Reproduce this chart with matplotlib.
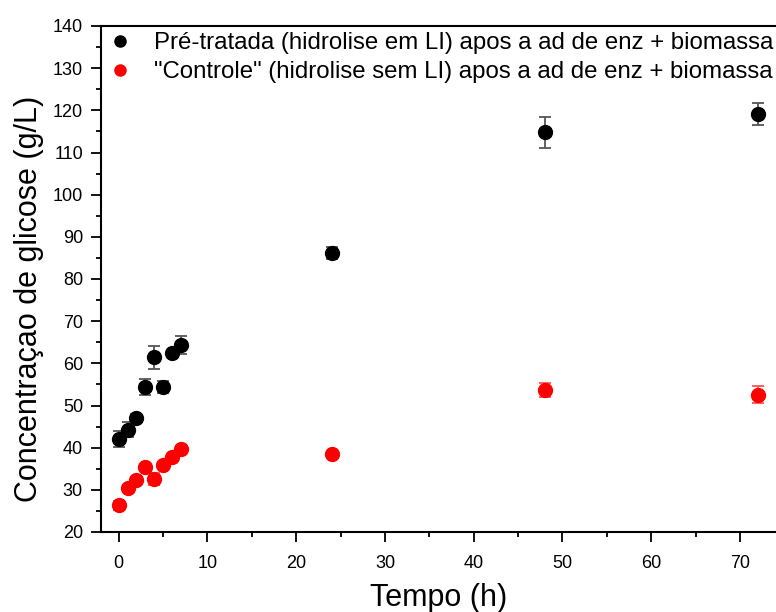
import matplotlib
matplotlib.use("Agg")
import matplotlib.pyplot as plt
from matplotlib.ticker import MultipleLocator
from matplotlib.lines import Line2D

plt.rcParams['font.family'] = ['Liberation Sans', 'DejaVu Sans']

tempo = [0, 1, 2, 3, 4, 5, 6, 7, 24, 48, 72]
pre_tratada = [42.1, 44.3, 47.1, 54.3, 61.4, 54.3, 62.4, 64.4, 86.2, 114.8, 119.1]
pre_err = [1.9, 1.7, 0.8, 1.9, 2.8, 1.4, 0.7, 2.2, 1.5, 3.7, 2.6]
controle = [26.3, 30.5, 32.4, 35.3, 32.5, 35.8, 37.8, 39.8, 38.4, 53.7, 52.6]
ctrl_err = [1.0, 0.5, 0.6, 0.6, 1.4, 0.5, 0.5, 0.5, 0.5, 1.7, 2.0]

label_pre = "Pré-tratada (hidrolise em LI) apos a ad de enz + biomassa"
label_ctrl = "\"Controle\" (hidrolise sem LI) apos a ad de enz + biomassa"

fig = plt.figure(figsize=(7.76, 6.12), dpi=100)
ax = fig.add_axes([101/776, 80/612, 1 - 101/776, (532-26)/612])

ax.errorbar(tempo, pre_tratada, yerr=pre_err, fmt='o', color='black', ms=10,
            ecolor='#555555', elinewidth=1.3, capsize=4, capthick=1.3)
ax.errorbar(tempo, controle, yerr=ctrl_err, fmt='o', color='#ff0000', ms=10,
            ecolor='#ff5555', elinewidth=1.3, capsize=4, capthick=1.3)

ax.set_xlim(-2, 74.07)
ax.set_ylim(20, 140)
ax.xaxis.set_major_locator(MultipleLocator(10))
ax.xaxis.set_minor_locator(MultipleLocator(5))
ax.yaxis.set_major_locator(MultipleLocator(10))
ax.yaxis.set_minor_locator(MultipleLocator(5))
ax.tick_params(which='major', direction='out', length=7, width=1.3, labelsize=13)
ax.tick_params(axis='x', which='major', pad=9.5)
ax.tick_params(axis='y', which='major', pad=6)
ax.tick_params(which='minor', direction='out', length=3.5, width=1.3)
for s in ['left', 'bottom', 'top']:
    ax.spines[s].set_linewidth(1.5)
ax.spines['right'].set_visible(False)

ax.set_xlabel("Tempo (h)", fontsize=22, labelpad=8)
ax.set_ylabel("Concentraçao de glicose (g/L)", fontsize=22)
ax.yaxis.set_label_coords(-0.085, 0.46)

handles = [Line2D([], [], marker='o', ls='none', color='black', ms=8),
           Line2D([], [], marker='o', ls='none', color='#ff0000', ms=8)]
leg = ax.legend(handles, [label_pre, label_ctrl], loc='upper left',
                bbox_to_anchor=(0.0104, 0.988), frameon=False, fontsize=17.3,
                handlelength=1.0, handletextpad=0.9, borderpad=0,
                borderaxespad=0, labelspacing=0.3)

fig.savefig("out.png", dpi=100)
